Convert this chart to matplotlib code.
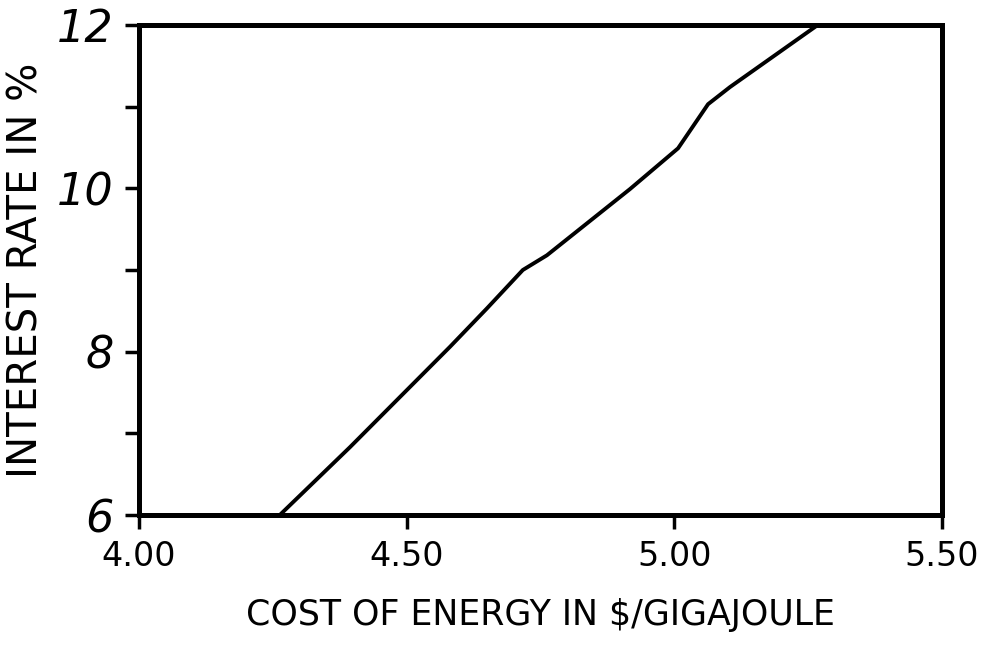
import numpy as np
import matplotlib
matplotlib.use("Agg")
import matplotlib.pyplot as plt

# curve
cost = [4.263, 4.394, 4.581, 4.650, 4.717, 4.762, 4.917, 5.007, 5.063, 5.104, 5.268]
rate = [6.00, 6.83, 8.06, 8.53, 9.00, 9.18, 9.99, 10.49, 11.03, 11.24, 12.00]

x_ticks = [4.00, 4.50, 5.00, 5.50]
x_labels = ["4.00", "4.50", "5.00", "5.50"]
y_ticks = [6, 7, 8, 9, 10, 11, 12]
y_labels = ["6", "", "8", "", "10", "", "12"]

plt.rcParams['font.family'] = ['DejaVu Sans']

fig = plt.figure(figsize=(9.9, 6.47), dpi=100)
ax = fig.add_axes([0.1404, 0.204, 0.8111, 0.7574])

ax.plot(cost, rate, color='black', linewidth=2.8, solid_capstyle='round')

ax.set_xlim(4.0, 5.5)
ax.set_ylim(6, 12)
ax.set_xticks(x_ticks)
ax.set_xticklabels(x_labels, fontsize=24)
ax.set_yticks(y_ticks)
ax.set_yticklabels(y_labels, fontsize=32, style='italic')

for s in ax.spines.values():
    s.set_linewidth(3.6)
    s.set_color('black')

ax.tick_params(axis='both', direction='out', width=2.5, color='black')
ax.tick_params(axis='y', length=10, pad=8)
ax.tick_params(axis='x', length=10, pad=8)

ax.set_xlabel("COST OF ENERGY IN $/GIGAJOULE", fontsize=25, labelpad=18)
ax.set_ylabel("INTEREST RATE IN %", fontsize=29, labelpad=8)

fig.savefig("out.png", dpi=100)
